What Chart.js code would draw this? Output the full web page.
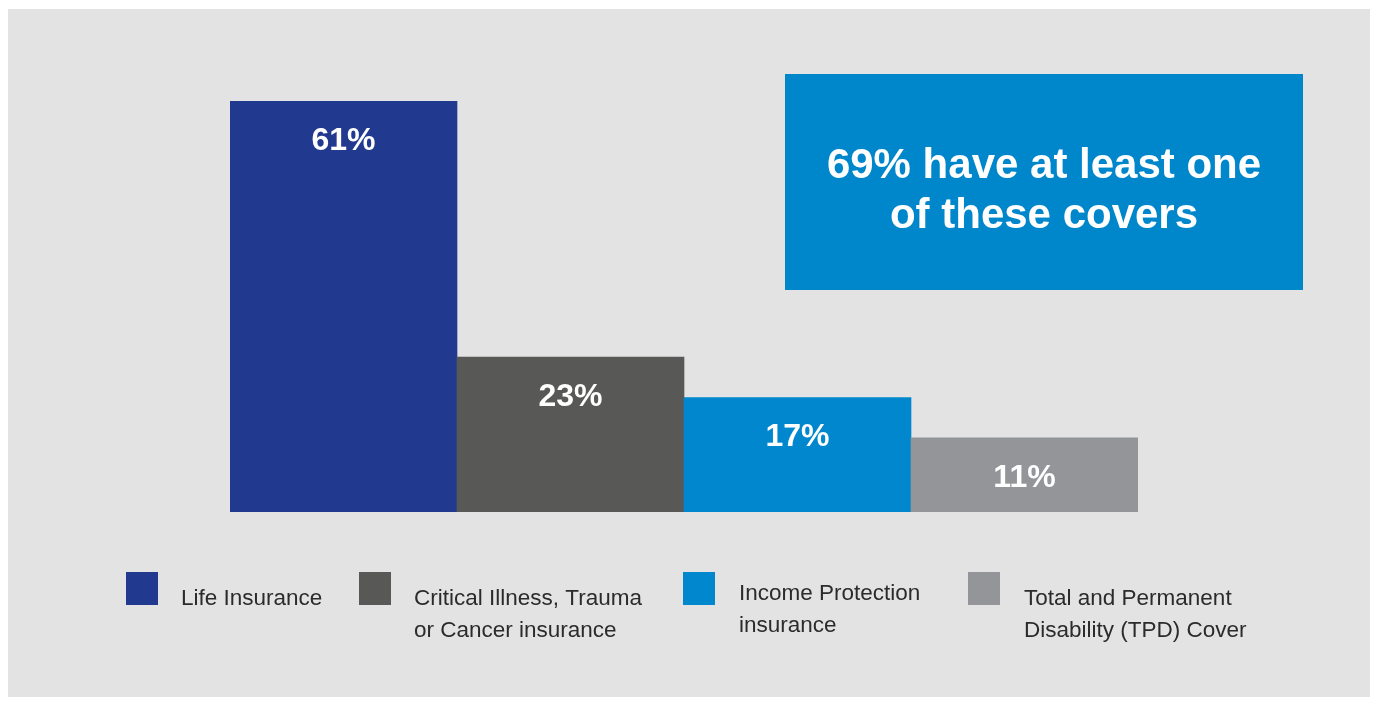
<!DOCTYPE html>
<html>
<head>
<meta charset="utf-8">
<script src="https://cdn.jsdelivr.net/npm/chart.js@4/dist/chart.umd.min.js"></script>
<style>
  html, body { margin: 0; padding: 0; background: #ffffff; }
  #wrap { position: relative; width: 1375px; height: 701px; }
  #panel { position: absolute; left: 8px; top: 9px; width: 1362px; height: 688px; background: #e3e3e3; }
  #c { position: absolute; left: 0; top: 0; }
</style>
</head>
<body>
<div id="wrap">
  <div id="panel"></div>
  <canvas id="c" width="1375" height="701"></canvas>
</div>
<script>
const categories = ["Life Insurance", "Critical Illness, Trauma or Cancer insurance", "Income Protection insurance", "Total and Permanent Disability (TPD) Cover"];
const values = [61, 23, 17, 11];
const valueLabels = ["61%", "23%", "17%", "11%"];
const legendLines = [["Life Insurance"], ["Critical Illness, Trauma", "or Cancer insurance"], ["Income Protection", "insurance"], ["Total and Permanent", "Disability (TPD) Cover"]];
const barColors = ["#213a8f", "#585857", "#0087cd", "#939598"];
const calloutLines = ["69% have at least one", "of these covers"];

const FONT = '"Liberation Sans", Arial, Helvetica, sans-serif';

const barLabelPlugin = {
  id: 'barLabels',
  afterDatasetsDraw(chart) {
    const ctx = chart.ctx;
    const meta = chart.getDatasetMeta(0);
    ctx.save();
    ctx.fillStyle = '#ffffff';
    ctx.font = 'bold 32px ' + FONT;
    ctx.textAlign = 'center';
    ctx.textBaseline = 'middle';
    meta.data.forEach((bar, i) => {
      ctx.fillText(valueLabels[i], bar.x, bar.y + 40);
    });
    ctx.restore();
  }
};

const calloutPlugin = {
  id: 'callout',
  afterDraw(chart) {
    const ctx = chart.ctx;
    ctx.save();
    ctx.fillStyle = '#0087cb';
    ctx.fillRect(785, 74, 518, 216);
    ctx.fillStyle = '#ffffff';
    ctx.font = 'bold 42px ' + FONT;
    ctx.textAlign = 'center';
    ctx.textBaseline = 'middle';
    calloutLines.forEach((t, i) => ctx.fillText(t, 1044, 166 + i * 50));
    ctx.restore();
  }
};

const legendPlugin = {
  id: 'customLegend',
  afterDraw(chart) {
    const ctx = chart.ctx;
    const items = [
      { sx: 126, tx: 181, y: 605 },
      { sx: 359, tx: 414, y: 605 },
      { sx: 683, tx: 739, y: 600 },
      { sx: 968, tx: 1024, y: 605 }
    ];
    ctx.save();
    ctx.font = '22.5px ' + FONT;
    ctx.textAlign = 'left';
    ctx.textBaseline = 'alphabetic';
    items.forEach((it, i) => {
      ctx.fillStyle = barColors[i];
      ctx.fillRect(it.sx, 572, 32, 33);
      ctx.fillStyle = '#2b2b2b';
      legendLines[i].forEach((line, j) => ctx.fillText(line, it.tx, it.y + j * 32));
    });
    ctx.restore();
  }
};

new Chart(document.getElementById('c'), {
  type: 'bar',
  data: {
    labels: categories,
    datasets: [{
      data: values,
      backgroundColor: barColors,
      borderWidth: 0,
      categoryPercentage: 1.0,
      barPercentage: 1.0
    }]
  },
  options: {
    responsive: false,
    animation: false,
    layout: { padding: { left: 230, right: 237, top: 101, bottom: 189 } },
    scales: {
      x: { display: false },
      y: { display: false, min: 0, max: 61 }
    },
    plugins: {
      legend: { display: false },
      tooltip: { enabled: false }
    }
  },
  plugins: [barLabelPlugin, calloutPlugin, legendPlugin]
});
</script>
</body>
</html>
